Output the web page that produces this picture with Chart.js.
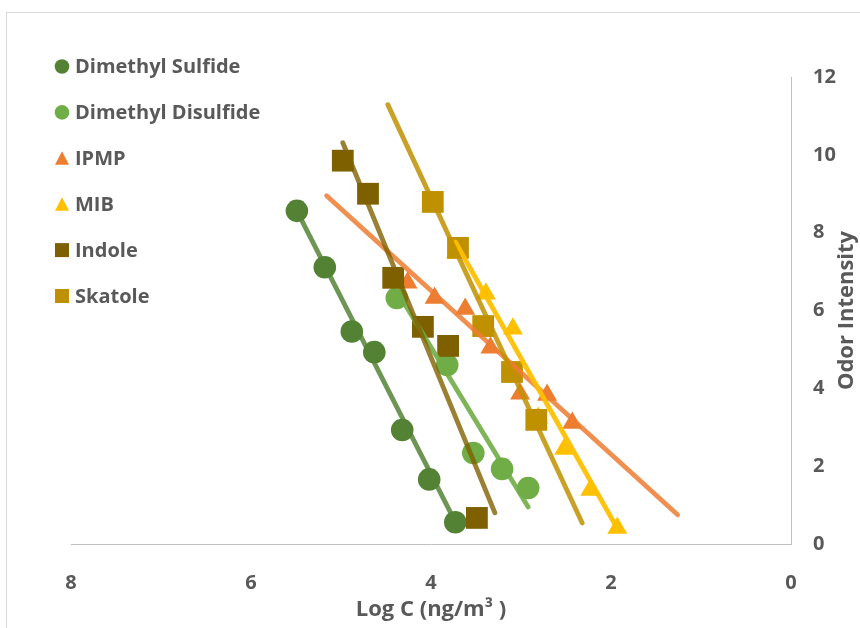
<!DOCTYPE html>
<html>
<head>
<meta charset="utf-8">
<title>Odor Intensity vs Log C</title>
<script src="https://cdn.jsdelivr.net/npm/chart.js@4.4.1/dist/chart.umd.min.js"></script>
<style>
  html, body { margin: 0; padding: 0; background: #fff; }
  #wrap { position: relative; width: 860px; height: 628px; overflow: hidden; }
  #frame {
    position: absolute; left: 6px; top: 12px; width: 900px; height: 700px;
    border-left: 1px solid #d9d9d9; border-top: 1px solid #d9d9d9;
  }
  canvas { position: absolute; left: 0; top: 0; }
</style>
</head>
<body>
<div id="wrap">
  <div id="frame"></div>
  <canvas id="odorChart" width="860" height="628"></canvas>
</div>
<script>
// ---- data ----
const seriesNames = ['Dimethyl Sulfide', 'Dimethyl Disulfide', 'IPMP', 'MIB', 'Indole', 'Skatole'];

const dmsLogC = [5.49, 5.18, 4.88, 4.63, 4.32, 4.02, 3.73];
const dmsOdor = [8.56, 7.11, 5.46, 4.93, 2.93, 1.66, 0.56];

const ddsLogC = [4.38, 3.82, 3.53, 3.21, 2.92];
const ddsOdor = [6.32, 4.60, 2.34, 1.93, 1.44];

const ipmpLogC = [4.26, 3.96, 3.62, 3.34, 3.01, 2.71, 2.43];
const ipmpOdor = [6.71, 6.32, 6.04, 5.04, 3.86, 3.83, 3.11];

const mibLogC = [3.72, 3.39, 3.09, 2.81, 2.52, 2.23, 1.93];
const mibOdor = [7.48, 6.43, 5.53, 3.24, 2.44, 1.39, 0.41];

const indoleLogC = [4.98, 4.70, 4.42, 4.09, 3.81, 3.49];
const indoleOdor = [9.85, 9.00, 6.84, 5.58, 5.09, 0.67];

const skatoleLogC = [3.98, 3.70, 3.42, 3.10, 2.83];
const skatoleOdor = [8.79, 7.61, 5.60, 4.42, 3.19];

// linear trendline end points (start, end)
const dmsFitLogC = [5.49, 3.73];
const dmsFitOdor = [8.56, 0.57];
const ddsFitLogC = [4.38, 2.92];
const ddsFitOdor = [6.50, 0.95];
const ipmpFitLogC = [5.16, 1.26];
const ipmpFitOdor = [8.95, 0.75];
const mibFitLogC = [3.73, 1.92];
const mibFitOdor = [7.76, 0.36];
const indoleFitLogC = [4.98, 3.29];
const indoleFitOdor = [10.31, 0.80];
const skatoleFitLogC = [4.48, 2.32];
const skatoleFitOdor = [11.29, 0.54];

const xTickValues = [0, 2, 4, 6, 8];
const yTickValues = [0, 2, 4, 6, 8, 10, 12];

// ---- styles ----
const seriesColors = ['#548235', '#70ad47', '#ed7d31', '#ffc000', '#7f6000', '#bf9000'];
const fitColors = [
  'rgba(84,130,53,0.85)', 'rgba(112,173,71,0.9)', 'rgba(237,125,49,0.85)',
  'rgba(255,192,0,0.95)', 'rgba(127,96,0,0.8)', 'rgba(191,144,0,0.85)'
];
const seriesStyles = ['circle', 'circle', 'triangle', 'triangle', 'rect', 'rect'];
const markerRadius = { circle: 11.3, triangle: 11.5, rect: 15.4 };
const TEXT = '#595959';
const FONT = "'Open Sans', sans-serif";

const pointSets = [
  [dmsLogC, dmsOdor], [ddsLogC, ddsOdor], [ipmpLogC, ipmpOdor],
  [mibLogC, mibOdor], [indoleLogC, indoleOdor], [skatoleLogC, skatoleOdor]
];
const fitSets = [
  [dmsFitLogC, dmsFitOdor], [ddsFitLogC, ddsFitOdor], [ipmpFitLogC, ipmpFitOdor],
  [mibFitLogC, mibFitOdor], [indoleFitLogC, indoleFitOdor], [skatoleFitLogC, skatoleFitOdor]
];

const toXY = (xs, ys) => xs.map((x, i) => ({ x, y: ys[i] }));

const datasets = [];
pointSets.forEach(([xs, ys], i) => {
  datasets.push({
    label: seriesNames[i],
    data: toXY(xs, ys),
    pointStyle: seriesStyles[i],
    pointRadius: markerRadius[seriesStyles[i]],
    backgroundColor: seriesColors[i],
    borderColor: seriesColors[i],
    borderWidth: 0,
    showLine: false,
    order: 10 - i,
  });
});
fitSets.forEach(([xs, ys], i) => {
  datasets.push({
    label: seriesNames[i] + ' trend',
    isFit: true,
    data: toXY(xs, ys),
    showLine: true,
    pointRadius: 0,
    borderColor: fitColors[i],
    borderWidth: 4.8,
    borderCapStyle: 'round',
    order: -i,
  });
});

// ---- marker for the legend ----
function drawMarker(ctx, style, x, y, color) {
  ctx.fillStyle = color;
  ctx.beginPath();
  if (style === 'circle') {
    ctx.arc(x, y, 7.3, 0, Math.PI * 2);
  } else if (style === 'triangle') {
    ctx.moveTo(x, y - 7);
    ctx.lineTo(x + 7, y + 6.5);
    ctx.lineTo(x - 7, y + 6.5);
    ctx.closePath();
  } else {
    ctx.rect(x - 7, y - 7, 14, 14);
  }
  ctx.fill();
}

const insideLegend = {
  id: 'insideLegend',
  afterDraw(chart) {
    const ctx = chart.ctx;
    ctx.save();
    ctx.font = `bold 20px ${FONT}`;
    ctx.textBaseline = 'middle';
    chart.data.datasets.filter((d) => !d.isFit).forEach((ds, i) => {
      const y = 66.5 + i * 45.9;
      drawMarker(ctx, ds.pointStyle, 62, y, ds.backgroundColor);
      ctx.fillStyle = TEXT;
      ctx.fillText(ds.label, 75, y + 1);
    });
    ctx.restore();
  }
};

const axisTitles = {
  id: 'axisTitles',
  afterDraw(chart) {
    const { ctx, chartArea } = chart;
    ctx.save();
    ctx.fillStyle = TEXT;
    ctx.font = `bold 22px ${FONT}`;
    ctx.textAlign = 'center';
    ctx.textBaseline = 'middle';
    ctx.fillText('Log C (ng/m³ )', (chartArea.left + chartArea.right) / 2, 610);
    ctx.translate(847, (chartArea.top + chartArea.bottom) / 2);
    ctx.rotate(-Math.PI / 2);
    ctx.fillText('Odor Intensity', 0, 0);
    ctx.restore();
  }
};

new Chart(document.getElementById('odorChart'), {
  type: 'scatter',
  data: { datasets },
  plugins: [insideLegend, axisTitles],
  options: {
    responsive: false,
    animation: false,
    layout: { padding: { left: 71, top: 77, right: 0, bottom: 0 } },
    plugins: { legend: { display: false }, tooltip: { enabled: false } },
    scales: {
      x: {
        type: 'linear',
        reverse: true,
        min: 0,
        max: 8,
        afterBuildTicks: (s) => { s.ticks = xTickValues.map((v) => ({ value: v })); },
        afterFit: (s) => { s.height = 84; },
        grid: { display: false, drawTicks: false },
        border: { display: true, color: '#bfbfbf', width: 1 },
        ticks: { color: TEXT, font: { family: FONT, size: 20, weight: 'bold' }, padding: 27 },
      },
      y: {
        type: 'linear',
        position: 'right',
        min: 0,
        max: 12,
        afterBuildTicks: (s) => { s.ticks = yTickValues.map((v) => ({ value: v })); },
        afterFit: (s) => { s.width = 69; },
        grid: { display: false, drawTicks: false },
        border: { display: true, color: '#bfbfbf', width: 1 },
        ticks: { color: TEXT, font: { family: FONT, size: 20, weight: 'bold' }, padding: 22 },
      },
    },
  },
});
</script>
</body>
</html>
